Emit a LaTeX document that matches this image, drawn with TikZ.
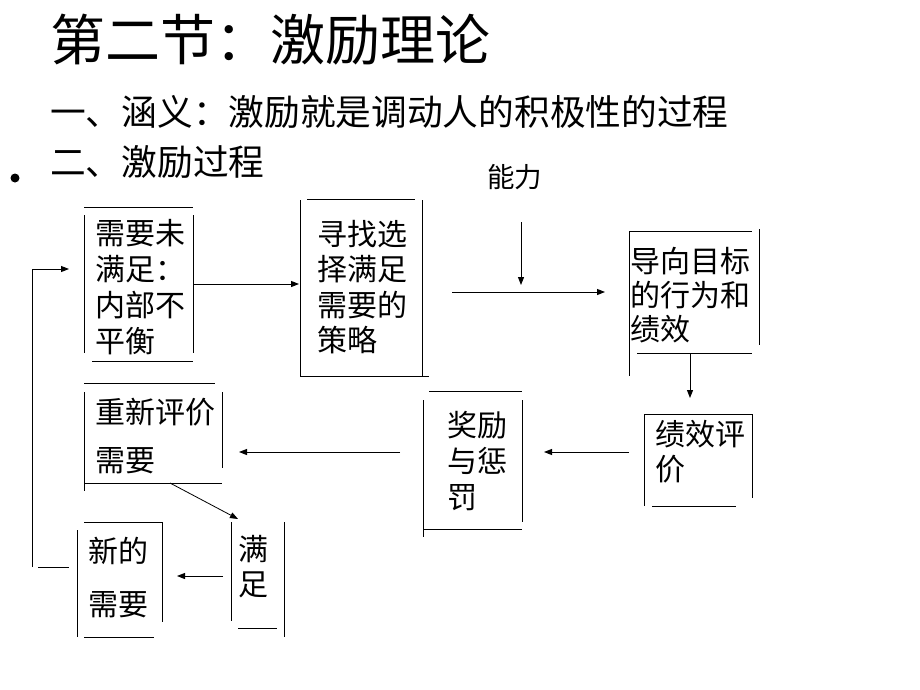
\documentclass[tikz,border=0pt]{standalone}
\usepackage{fontspec}
\setmainfont{Noto Sans CJK SC}
\usetikzlibrary{arrows.meta}
\tikzset{
  box/.style={anchor=west, inner sep=0pt, align=left, font=\fontsize{30}{36}\selectfont},
  edge/.style={line width=1pt},
  flow/.style={line width=1pt, -{Triangle[length=8pt,width=6pt]}}
}

\begin{document}
\begin{tikzpicture}[x=1pt, y=-1pt]
		\fill[white] (0, 0) rectangle (920, 690);
		\useasboundingbox (0, 0) rectangle (920, 690);
		% headings
		\node(title)[anchor=west, inner sep=0pt, font=\fontsize{55}{60}\selectfont] at (50, 40) {第二节：激励理论};
		\node(meaning)[anchor=west, inner sep=0pt, font=\fontsize{35.7}{40}\selectfont] at (50, 112) {一、涵义：激励就是调动人的积极性的过程};
		\node(process)[anchor=west, inner sep=0pt, font=\fontsize{35.7}{40}\selectfont] at (50, 162) {二、激励过程};
		\fill (15, 178) circle (4.5);
		\node(ability)[anchor=west, inner sep=0pt, font=\fontsize{27.5}{30}\selectfont] at (487, 177) {能力};
		% boxes
		\node(need)[box] at (95, 287) {需要未\\满足：\\内部不\\平衡};
		\node(search)[box, font=\fontsize{30}{35.5}\selectfont] at (317, 287) {寻找选\\择满足\\需要的\\策略};
		\node(act)[box, font=\fontsize{30}{34}\selectfont] at (630, 295) {导向目标\\的行为和\\绩效};
		\node(rate)[box, font=\fontsize{30}{35}\selectfont] at (655, 452) {绩效评\\价};
		\node(reward)[box] at (447, 461) {奖励\\与惩\\罚};
		\node(review)[box, font=\fontsize{30}{48}\selectfont] at (95, 436) {重新评价\\需要};
		\node(meet)[box, font=\fontsize{30}{35}\selectfont] at (238, 567) {满\\足};
		\node(newneed)[box, font=\fontsize{30}{53}\selectfont] at (88, 578) {新的\\需要};
		% box edges
		\draw[edge] (84, 207) -- (193, 207) (84, 215) -- (84, 353) (193, 215) -- (193, 353) (92, 361) -- (193, 361);
		\draw[edge] (307, 199) -- (415, 199) (300, 200) -- (300, 376) (422, 200) -- (422, 376) (300, 376) -- (429, 376);
		\draw[edge] (629, 231) -- (752, 231) (629, 231) -- (629, 376) (759, 229) -- (759, 345) (637, 353) -- (752, 353);
		\draw[edge] (644, 414) -- (752, 414) (644, 414) -- (644, 506) (752, 414) -- (752, 498) (652, 506) -- (736, 506);
		\draw[edge] (429, 391) -- (522, 391) (423, 400) -- (423, 537) (522, 400) -- (522, 522) (423, 529) -- (522, 529);
		\draw[edge] (84, 383) -- (215, 383) (84, 392) -- (84, 491) (222, 392) -- (222, 468) (84, 483) -- (222, 483);
		\draw[edge] (231, 522) -- (231, 621) (284, 522) -- (284, 637) (238, 628) -- (277, 628);
		\draw[edge] (84, 522) -- (162, 522) (77, 530) -- (77, 637) (162, 522) -- (162, 622) (84, 637) -- (154, 637);
		% arrow ends
		\coordinate(needR) at (193, 284);
		\coordinate(searchL) at (299, 284);
		\coordinate(abilityT) at (521, 222);
		\coordinate(abilityB) at (521, 285);
		\coordinate(midL) at (452, 292);
		\coordinate(actL) at (605, 292);
		\coordinate(actB) at (690, 353);
		\coordinate(rateT) at (690, 398);
		\coordinate(rateL) at (629, 452);
		\coordinate(rewardR) at (544, 452);
		\coordinate(rewardL) at (400, 452);
		\coordinate(reviewR) at (239, 452);
		\coordinate(reviewB) at (170, 483);
		\coordinate(meetT) at (238, 519);
		\coordinate(meetL) at (223, 576);
		\coordinate(newneedR) at (177, 576);
		\coordinate(loopT) at (32, 269);
		\coordinate(loopB) at (32, 567);
		\coordinate(needL) at (69, 269);
		\coordinate(newneedL) at (38, 567);
		\coordinate(newneedX) at (69, 567);
		% connectors
		\draw[flow] (needR) -- (searchL);
		\draw[flow] (abilityT) -- (abilityB);
		\draw[flow] (midL) -- (actL);
		\draw[flow] (actB) -- (rateT);
		\draw[flow] (rateL) -- (rewardR);
		\draw[flow] (rewardL) -- (reviewR);
		\draw[flow, line width=0.8pt] (reviewB) -- (meetT);
		\draw[flow] (meetL) -- (newneedR);
		\draw[edge] (loopB) -- (loopT);
		\draw[flow] (loopT) -- (needL);
		\draw[edge] (newneedL) -- (newneedX);
		\end{tikzpicture}
\end{document}
